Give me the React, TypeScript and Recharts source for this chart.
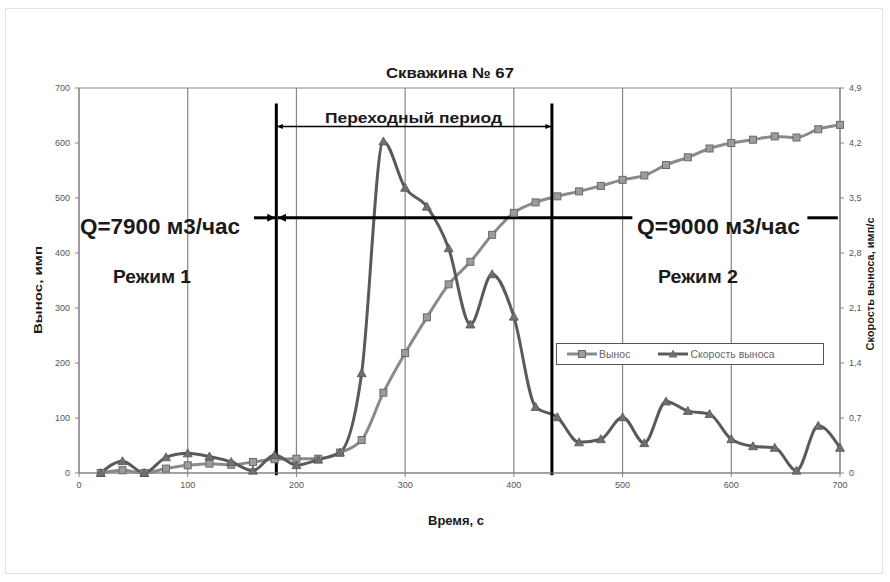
import React from "react";
import { CartesianGrid, Legend, Line, LineChart, ReferenceLine, XAxis, YAxis } from "recharts";

// time, s
const times = [
  20, 40, 60, 80, 100, 120, 140, 160, 180, 200, 220, 240, 260, 280, 300, 320, 340, 360,
  380, 400, 420, 440, 460, 480, 500, 520, 540, 560, 580, 600, 620, 640, 660, 680, 700,
];
// Вынос, имп (left axis)
const vynos = [
  0, 5, 0, 8, 14, 17, 15, 20, 25, 26, 26, 37, 60, 146, 218, 283, 343, 384,
  433, 473, 492, 503, 512, 522, 533, 541, 560, 574, 590, 600, 606, 612, 610, 625, 633,
];
// Скорость выноса, имп/с (right axis)
const skorost = [
  0, 0.15, 0, 0.2, 0.25, 0.21, 0.14, 0.03, 0.23, 0.1, 0.17, 0.26, 1.27, 4.22, 3.63, 3.39, 2.86, 1.89,
  2.53, 1.99, 0.84, 0.71, 0.39, 0.43, 0.71, 0.38, 0.91, 0.79, 0.75, 0.43, 0.34, 0.32, 0.03, 0.6, 0.32,
];

const xTicks = [0, 100, 200, 300, 400, 500, 600, 700];
const leftTicks = [0, 100, 200, 300, 400, 500, 600, 700];
const rightTicks = [0, 0.7, 1.4, 2.1, 2.8, 3.5, 4.2, 4.9];

// annotation positions in data units
const modeSwitchTimes = [181.5, 435];
const flowLevel = 464;
const transitionLevel = 630;

const data = times.map((t, i) => ({ t, vynos: vynos[i], skorost: skorost[i] }));

const font = '"Liberation Sans", Arial, sans-serif';
const gridColor = "#858585";
const tickStyle = { fill: "#555", fontSize: 9, fontFamily: font };

function SquareDot(props: any) {
  const { cx, cy, index } = props;
  if (cx == null || cy == null) return <g key={index} />;
  return (
    <rect key={index} x={cx - 3.5} y={cy - 3.5} width={7} height={7} fill="#9c9c9c" stroke="#6a6a6a" strokeWidth={1} />
  );
}

function TriangleDot(props: any) {
  const { cx, cy, index } = props;
  if (cx == null || cy == null) return <g key={index} />;
  return (
    <path
      key={index}
      d={`M${cx},${cy - 4.5} L${cx + 4.5},${cy + 3.5} L${cx - 4.5},${cy + 3.5} Z`}
      fill="#707070"
      stroke="#555"
      strokeWidth={0.8}
    />
  );
}

function arrow(headStart: boolean, headEnd: boolean, width: number, hl: number, hw: number) {
  return (p: any) => {
    const { x1, y1, x2, y2 } = p;
    const len = Math.hypot(x2 - x1, y2 - y1) || 1;
    const ux = (x2 - x1) / len;
    const uy = (y2 - y1) / len;
    const head = (tx: number, ty: number, dir: number) => {
      const bx = tx - dir * ux * hl;
      const by = ty - dir * uy * hl;
      return `${tx},${ty} ${bx - uy * hw},${by + ux * hw} ${bx + uy * hw},${by - ux * hw}`;
    };
    return (
      <g>
        <line x1={x1} y1={y1} x2={x2} y2={y2} stroke="#000" strokeWidth={width} />
        {headStart && <polygon points={head(x1, y1, -1)} fill="#000" />}
        {headEnd && <polygon points={head(x2, y2, 1)} fill="#000" />}
      </g>
    );
  };
}

function LegendBox() {
  return (
    <div
      style={{
        width: 268,
        height: 22,
        border: "1px solid #555",
        background: "#fff",
        boxSizing: "border-box",
        display: "flex",
        alignItems: "center",
        fontFamily: font,
        fontSize: 10.5,
        color: "#666",
      }}
    >
      <svg width={30} height={12} style={{ marginLeft: 10 }}>
        <line x1={0} y1={6} x2={30} y2={6} stroke="#8a8a8a" strokeWidth={3} />
        <rect x={11.5} y={2.5} width={7} height={7} fill="#9c9c9c" stroke="#6a6a6a" />
      </svg>
      <span style={{ marginLeft: 2 }}>Вынос</span>
      <svg width={30} height={12} style={{ marginLeft: 28 }}>
        <line x1={0} y1={6} x2={30} y2={6} stroke="#5a5a5a" strokeWidth={3} />
        <path d="M15,1.5 L19.5,9.5 L10.5,9.5 Z" fill="#707070" />
      </svg>
      <span style={{ marginLeft: 2 }}>Скорость выноса</span>
    </div>
  );
}

const bold = { fontFamily: font, fontWeight: 700, fill: "#1a1a1a" } as const;

export default function App() {
  return (
    <div style={{ position: "absolute", left: 0, top: 0, width: 890, height: 582, background: "#fff" }}>
      <div
        style={{
          position: "absolute",
          left: 5,
          top: 8,
          width: 878,
          height: 566,
          border: "1px solid #e2e2e2",
          boxSizing: "border-box",
        }}
      />
      <LineChart width={890} height={582} data={data} margin={{ top: 88, right: 10, bottom: 57, left: 39 }}>
        <CartesianGrid stroke={gridColor} strokeWidth={1.2} />
        <XAxis
          dataKey="t"
          type="number"
          domain={[0, 700]}
          ticks={xTicks}
          tick={tickStyle}
          tickSize={4}
          tickMargin={5}
          height={30}
          stroke={gridColor}
        />
        <YAxis
          yAxisId="left"
          domain={[0, 700]}
          ticks={leftTicks}
          tick={tickStyle}
          tickSize={4}
          tickMargin={5}
          width={40}
          stroke={gridColor}
        />
        <YAxis
          yAxisId="right"
          orientation="right"
          domain={[0, 4.9]}
          ticks={rightTicks}
          tick={tickStyle}
          tickFormatter={(v: number) => String(v).replace(".", ",")}
          tickSize={4}
          tickMargin={5}
          width={40}
          stroke={gridColor}
        />
        <Legend
          content={() => <LegendBox />}
          wrapperStyle={{ position: "absolute", left: 556, top: 343, width: 268, height: 22 }}
        />
        <Line
          yAxisId="left"
          dataKey="vynos"
          name="Вынос"
          type="monotone"
          stroke="#8a8a8a"
          strokeWidth={3}
          dot={SquareDot}
          isAnimationActive={false}
        />
        <Line
          yAxisId="right"
          dataKey="skorost"
          name="Скорость выноса"
          type="monotone"
          stroke="#5a5a5a"
          strokeWidth={3}
          dot={TriangleDot}
          isAnimationActive={false}
        />
        {modeSwitchTimes.map((x) => (
          <ReferenceLine
            key={x}
            yAxisId="left"
            ifOverflow="visible"
            segment={[
              { x, y: -4 },
              { x, y: 672 },
            ]}
            shape={arrow(false, false, 3, 0, 0)}
          />
        ))}
        <ReferenceLine
          yAxisId="left"
          segment={[
            { x: 182, y: transitionLevel },
            { x: 434.5, y: transitionLevel },
          ]}
          shape={arrow(true, true, 1.5, 6, 2.5)}
        />
        <ReferenceLine
          yAxisId="left"
          segment={[
            { x: 161, y: flowLevel },
            { x: 180.5, y: flowLevel },
          ]}
          shape={arrow(false, true, 3, 8, 4)}
        />
        <ReferenceLine
          yAxisId="left"
          segment={[
            { x: 183, y: flowLevel },
            { x: 509, y: flowLevel },
          ]}
          shape={arrow(true, false, 3, 8, 4)}
        />
        <ReferenceLine
          yAxisId="left"
          segment={[
            { x: 670, y: flowLevel },
            { x: 698, y: flowLevel },
          ]}
          shape={arrow(false, false, 3, 0, 0)}
        />
      </LineChart>
      <svg width={890} height={582} style={{ position: "absolute", left: 0, top: 0, pointerEvents: "none" }}>
        <text x={450} y={78} textAnchor="middle" fontSize={15} textLength={128} lengthAdjust="spacingAndGlyphs" {...bold}>
          Скважина № 67
        </text>
        <text x={325} y={123} fontSize={15} textLength={177} lengthAdjust="spacingAndGlyphs" {...bold}>
          Переходный период
        </text>
        <text x={80} y={234} fontSize={22} textLength={160} lengthAdjust="spacingAndGlyphs" {...bold}>
          Q=7900 м3/час
        </text>
        <text x={637} y={234} fontSize={22} textLength={163} lengthAdjust="spacingAndGlyphs" {...bold}>
          Q=9000 м3/час
        </text>
        <text x={113} y={283} fontSize={18} textLength={78} lengthAdjust="spacingAndGlyphs" {...bold}>
          Режим 1
        </text>
        <text x={658} y={283} fontSize={18} textLength={80} lengthAdjust="spacingAndGlyphs" {...bold}>
          Режим 2
        </text>
        <text x={428} y={525} fontSize={12} textLength={56} lengthAdjust="spacingAndGlyphs" {...bold}>
          Время, с
        </text>
        <text
          transform="translate(42,290) rotate(-90)"
          textAnchor="middle"
          fontSize={11}
          textLength={88}
          lengthAdjust="spacingAndGlyphs"
          {...bold}
        >
          Вынос, имп
        </text>
        <text
          transform="translate(874,284) rotate(-90)"
          textAnchor="middle"
          fontSize={10.5}
          textLength={133}
          lengthAdjust="spacingAndGlyphs"
          {...bold}
        >
          Скорость выноса, имп/с
        </text>
      </svg>
    </div>
  );
}
